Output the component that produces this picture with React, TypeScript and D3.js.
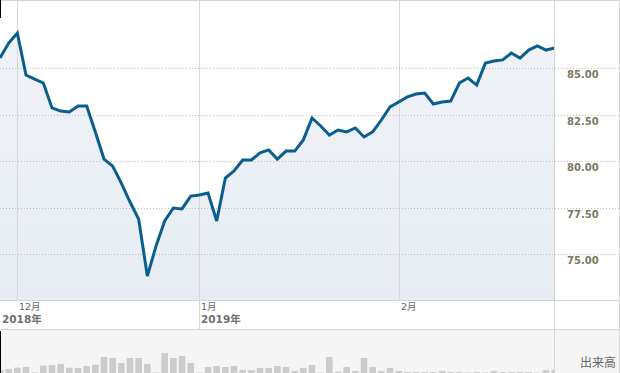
import React, { useEffect, useRef } from 'react';
import * as d3 from 'd3';

// closing prices, one per trading day (late Nov 2018 - Feb 2019)
const prices = [
  85.55, 86.36, 86.9, 84.64, 84.42, 84.21, 82.87, 82.7, 82.65, 82.97,
  82.97, 81.58, 80.12, 79.74, 78.83, 77.81, 76.89, 73.83, 75.44, 76.79,
  77.49, 77.44, 78.13, 78.19, 78.3, 76.79, 79.1, 79.48, 80.07, 80.07,
  80.45, 80.61, 80.12, 80.55, 80.55, 81.15, 82.33, 81.9, 81.41, 81.68,
  81.58, 81.79, 81.31, 81.58, 82.22, 82.92, 83.19, 83.46, 83.62, 83.67,
  83.08, 83.19, 83.24, 84.21, 84.48, 84.1, 85.28, 85.39, 85.45, 85.82,
  85.55, 85.98, 86.2, 85.98, 86.09,
];

// volume, arbitrary units
const volumes = [
  30, 40, 53, 60, 5, 73, 80, 90, 53, 50,
  70, 83, 160, 150, 100, 150, 150, 90, 5, 200,
  150, 170, 100, 5, 60, 70, 60, 70, 30, 30,
  50, 50, 70, 60, 20, 50, 80, 5, 160, 13,
  60, 20, 150, 60, 20, 50, 20, 10, 10, 10,
  10, 20, 10, 10, 5, 10, 5, 20, 10, 10,
  10, 10, 5, 30, 30,
];

const priceTicks = [75, 77.5, 80, 82.5, 85];

const monthTickIndex = [2, 23, 46];
const monthLabels = ['12月', '1月', '2月'];
const yearTickIndex = [0, 23];
const yearLabels = ['2018年', '2019年'];

const W = 620, H = 373;
const plotRight = 554.5, plotBottom = 300.5, labelBottom = 329.5;
const labelFont = '"DejaVu Sans", "Noto Sans CJK JP", sans-serif';

function App() {
  const ref = useRef<SVGSVGElement | null>(null);

  useEffect(() => {
    const svg = d3.select(ref.current);
    svg.selectAll('*').remove();

    const x = d3.scaleLinear().domain([0, prices.length - 1]).range([0, 554.7]);
    const y = d3.scaleLinear().domain([75, 85]).range([254.3, 68.3]);
    const yVol = d3.scaleLinear().domain([0, 400]).range([H, H - 40]);

    const defs = svg.append('defs');
    defs.append('clipPath').attr('id', 'plotClip')
      .append('rect').attr('x', 0).attr('y', 0).attr('width', plotRight).attr('height', H);
    const grad = defs.append('linearGradient').attr('id', 'areaFill')
      .attr('x1', 0).attr('y1', 0).attr('x2', 0).attr('y2', 1);
    grad.append('stop').attr('offset', '0%').attr('stop-color', '#eff3f8');
    grad.append('stop').attr('offset', '100%').attr('stop-color', '#e7ecf3');

    svg.append('rect').attr('width', W).attr('height', H).attr('fill', '#fff');

    // volume panel background
    svg.append('rect').attr('x', 0).attr('y', labelBottom).attr('width', W)
      .attr('height', H - labelBottom).attr('fill', '#f5f5f5');

    // price area
    const area = d3.area<number>()
      .x((d, i) => x(i))
      .y0(plotBottom)
      .y1(d => y(d));
    svg.append('path').datum(prices)
      .attr('d', area)
      .attr('fill', 'url(#areaFill)')
      .attr('clip-path', 'url(#plotClip)');

    // vertical month gridlines
    svg.selectAll('line.vgrid')
      .data(monthTickIndex)
      .enter()
      .append('line')
        .attr('class', 'vgrid')
        .attr('x1', d => Math.round(x(d)) + 0.5)
        .attr('x2', d => Math.round(x(d)) + 0.5)
        .attr('y1', 0)
        .attr('y2', d => yearTickIndex.indexOf(d) > 0 ? labelBottom : plotBottom)
        .attr('stroke', '#d8d8d8')
        .attr('stroke-width', 1);

    // horizontal dotted gridlines
    svg.selectAll('line.hgrid')
      .data(priceTicks)
      .enter()
      .append('line')
        .attr('class', 'hgrid')
        .attr('x1', 0)
        .attr('x2', W)
        .attr('y1', d => Math.round(y(d)) + 0.5)
        .attr('y2', d => Math.round(y(d)) + 0.5)
        .attr('stroke', '#bdbdbd')
        .attr('stroke-dasharray', '1,2')
        .attr('stroke-width', 1);

    // price line
    const line = d3.line<number>()
      .x((d, i) => x(i))
      .y(d => y(d));
    svg.append('path').datum(prices)
      .attr('d', line)
      .attr('fill', 'none')
      .attr('stroke', '#0a5e8c')
      .attr('stroke-width', 3)
      .attr('clip-path', 'url(#plotClip)');

    // volume bars
    svg.append('g').attr('clip-path', 'url(#plotClip)')
      .selectAll('rect')
      .data(volumes)
      .enter()
      .append('rect')
        .attr('x', (d, i) => x(i) - 3.3)
        .attr('y', d => yVol(d))
        .attr('width', 6.6)
        .attr('height', d => H - yVol(d))
        .attr('fill', '#cbcbcb');

    // frame lines
    const frame = svg.append('g').attr('stroke', '#d4d4d4').attr('stroke-width', 1);
    frame.append('line').attr('x1', 0).attr('x2', W).attr('y1', 0.5).attr('y2', 0.5);
    frame.append('line').attr('x1', 0).attr('x2', W).attr('y1', plotBottom).attr('y2', plotBottom);
    frame.append('line').attr('x1', 0).attr('x2', W).attr('y1', labelBottom).attr('y2', labelBottom);
    frame.append('line').attr('x1', plotRight).attr('x2', plotRight).attr('y1', 0).attr('y2', H);
    frame.append('line').attr('x1', W - 0.5).attr('x2', W - 0.5).attr('y1', 0).attr('y2', H);

    // left edge marks
    svg.append('rect').attr('x', 0).attr('y', 0).attr('width', 1).attr('height', 18).attr('fill', '#000');
    svg.append('rect').attr('x', 0).attr('y', 331).attr('width', 1).attr('height', H - 331).attr('fill', '#000');

    // price labels
    svg.selectAll('text.ylab')
      .data(priceTicks)
      .enter()
      .append('text')
        .attr('class', 'ylab')
        .attr('x', 567)
        .attr('y', d => Math.round(y(d)) + 10)
        .attr('font-family', '"DejaVu Sans", sans-serif')
        .attr('font-size', 10)
        .attr('font-weight', 'bold')
        .attr('fill', '#7b7865')
        .text(d => d.toFixed(2));

    // month labels
    svg.selectAll('text.mlab')
      .data(monthTickIndex)
      .enter()
      .append('text')
        .attr('class', 'mlab')
        .attr('x', d => Math.round(x(d)) + 2)
        .attr('y', 310)
        .attr('font-family', labelFont)
        .attr('font-size', 9.5)
        .attr('fill', '#666')
        .text((d, i) => monthLabels[i]);

    svg.selectAll('text.yrlab')
      .data(yearTickIndex)
      .enter()
      .append('text')
        .attr('class', 'yrlab')
        .attr('x', d => Math.round(x(d)) + 2)
        .attr('y', 323)
        .attr('font-family', labelFont)
        .attr('font-size', 10.5)
        .attr('font-weight', 'bold')
        .attr('fill', '#707070')
        .text((d, i) => yearLabels[i]);

    svg.append('text')
      .attr('x', 580)
      .attr('y', 367)
      .attr('font-family', '"Noto Sans CJK JP", sans-serif')
      .attr('font-size', 12)
      .attr('fill', '#666')
      .text('出来高');
  }, []);

  return (
    <svg ref={ref} width={W} height={H}
      style={{ position: 'absolute', left: 0, top: 0, display: 'block' }} />
  );
}

export default App;
